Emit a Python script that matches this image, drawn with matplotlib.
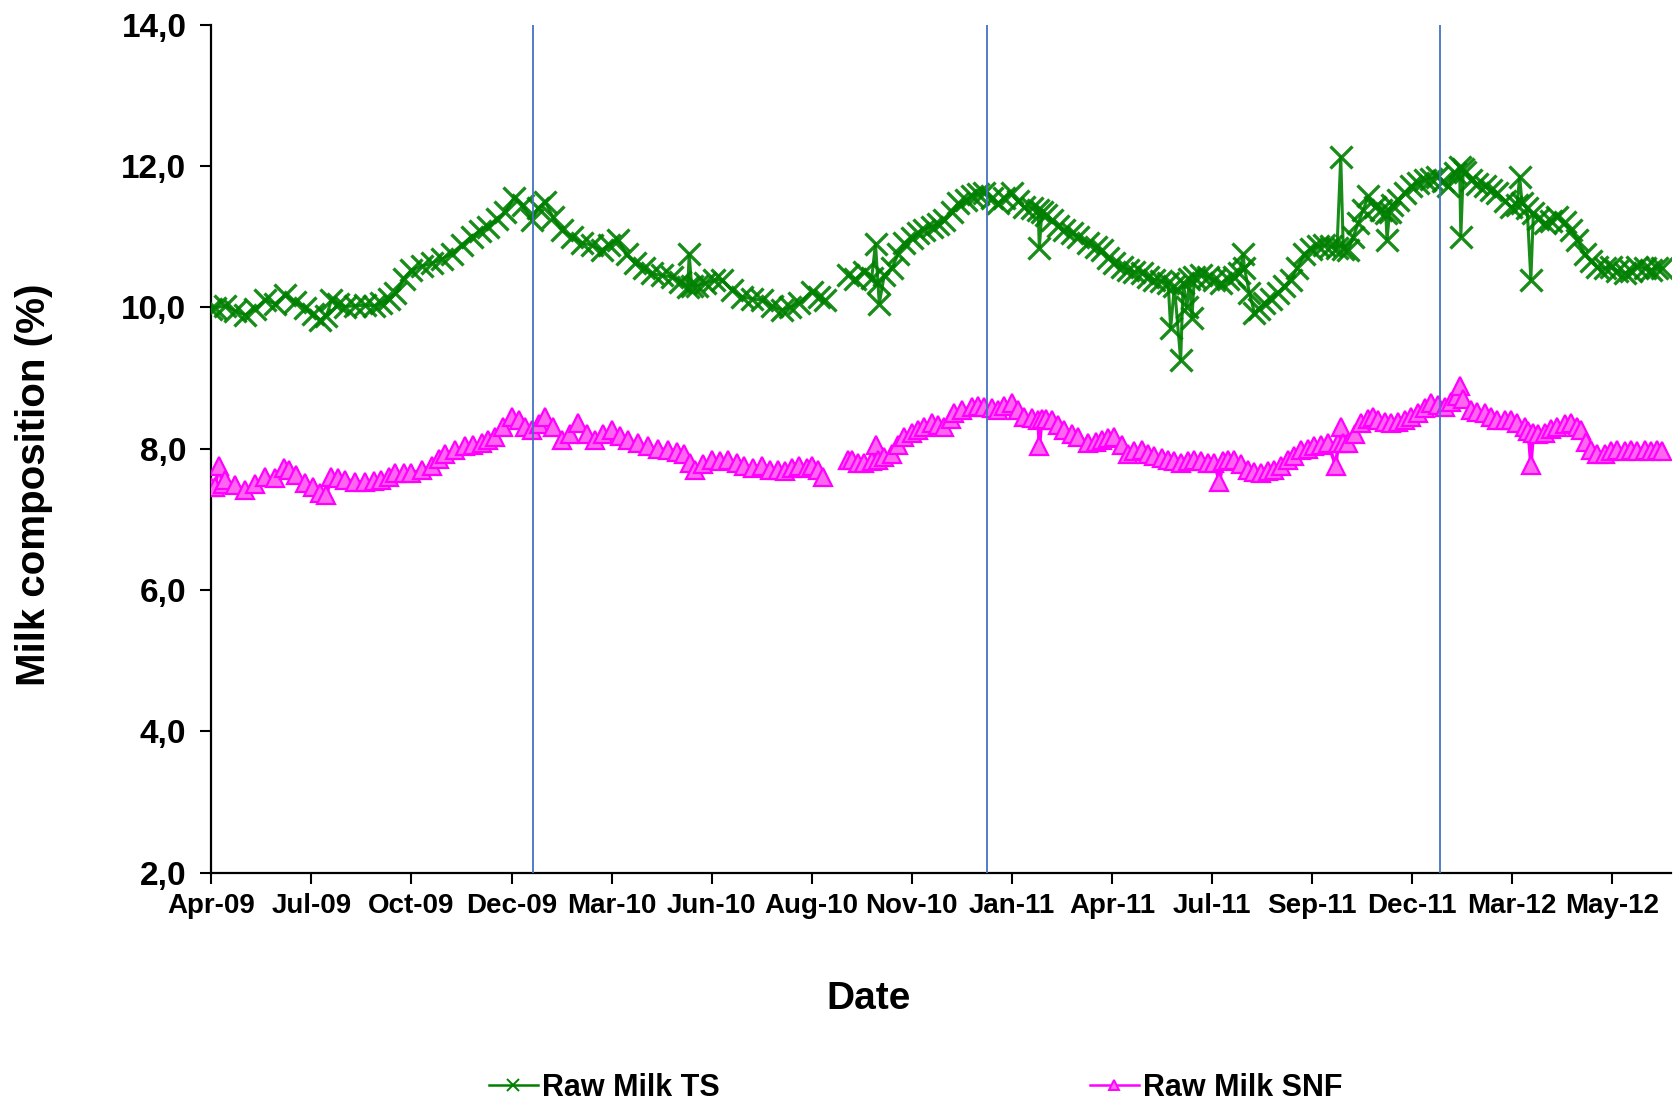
import datetime as dt
import matplotlib
matplotlib.use("Agg")
import matplotlib.pyplot as plt
import matplotlib.dates as mdates
from matplotlib.ticker import FuncFormatter, FixedLocator
from matplotlib.lines import Line2D
import numpy as np

# Sampling dates are stored as day offsets from the first sample
start_date = dt.date(2009, 4, 28)

ts_days = [0, 3, 11, 19, 27, 35, 43, 51, 59, 67, 75, 81, 87, 92, 96, 101, 107, 115, 123, 130,
           136, 142, 147, 154, 160, 168, 176, 184, 192, 200, 208, 215, 221, 228, 235, 242, 249,
           256, 261, 267, 273, 280, 288, 296, 304, 312, 318, 325, 332, 339, 346, 352, 360, 368,
           375, 381, 382, 384, 388, 395, 402, 408, 416, 424, 432, 440, 448, 456, 463, 470, 480,
           486, 491, 500, 509, 515, 522, 528, 531, 533, 534, 538, 544, 549, 554, 560, 565, 570,
           576, 581, 586, 592, 597, 603, 608, 613, 618, 624, 629, 634, 640, 645, 650, 656, 661,
           662, 664, 667, 672, 677, 682, 688, 693, 701, 707, 712, 717, 722, 728, 733, 738, 744,
           749, 754, 759, 765, 767, 770, 775, 777, 780, 782, 784, 786, 791, 797, 802, 807, 813,
           818, 822, 825, 826, 830, 834, 838, 842, 847, 853, 858, 863, 868, 874, 879, 885, 890,
           895, 900, 903, 905, 909, 913, 917, 921, 925, 930, 935, 939, 940, 942, 944, 949, 954,
           959, 965, 970, 975, 980, 985, 989, 994, 998, 999, 1001, 1002, 1007, 1012, 1018, 1023,
           1028, 1034, 1039, 1044, 1046, 1048, 1052, 1055, 1057, 1061, 1066, 1071, 1076, 1082,
           1087, 1092, 1098, 1103, 1108, 1114, 1119, 1124, 1130, 1135, 1140, 1146, 1151, 1156,
           1160]
ts_values = [9.98, 9.99, 10.02, 9.95, 9.89, 9.98, 10.10, 10.05, 10.17, 10.08, 9.99, 9.90, 9.82,
             9.88, 10.10, 10.05, 10.01, 10.02, 10.03, 10.02, 10.06, 10.12, 10.20, 10.40, 10.53,
             10.58, 10.62, 10.68, 10.76, 10.88, 11.00, 11.08, 11.14, 11.25, 11.35, 11.55, 11.45,
             11.24, 11.40, 11.49, 11.28, 11.09, 11.00, 10.91, 10.88, 10.81, 10.88, 10.95, 10.75,
             10.62, 10.55, 10.48, 10.45, 10.43, 10.36, 10.29, 10.76, 10.30, 10.30, 10.34, 10.38,
             10.39, 10.25, 10.15, 10.12, 10.10, 10.02, 9.96, 10.00, 10.06, 10.22, 10.15, 10.10,
             np.nan, 10.45, 10.40, 10.50, 10.42, 10.90, 10.34, 10.05, 10.45, 10.55, 10.75, 10.91,
             10.98, 11.05, 11.10, 11.14, 11.18, 11.24, 11.35, 11.47, 11.52, 11.57, 11.60, 11.61,
             11.55, 11.47, 11.55, 11.61, 11.50, 11.42, 11.40, 11.38, 10.84, 11.35, 11.30, 11.24,
             11.15, 11.09, 11.05, 11.00, 10.91, 10.85, 10.81, 10.70, 10.62, 10.57, 10.53, 10.50,
             10.48, 10.43, 10.39, 10.37, 10.34, 9.70, 10.30, 9.25, 10.35, 10.00, 10.40, 9.85,
             10.43, 10.45, 10.43, 10.38, 10.34, 10.40, 10.43, 10.48, 10.75, 10.55, 10.20, 9.92,
             9.98, 10.06, 10.12, 10.20, 10.30, 10.39, 10.55, 10.76, 10.82, 10.86, 10.88, 10.86,
             10.84, 12.13, 10.82, 10.81, 11.00, 11.19, 11.38, 11.57, 11.42, 11.38, 11.33, 10.95,
             11.35, 11.45, 11.52, 11.62, 11.71, 11.76, 11.80, 11.82, 11.85, 11.78, 11.71, 11.90,
             11.99, 11.00, 11.95, 11.92, 11.80, 11.75, 11.71, 11.66, 11.61, 11.50, 11.42, 11.45,
             11.85, 11.47, 11.40, 10.39, 11.33, 11.25, 11.19, 11.22, 11.28, 11.20, 11.09, 10.95,
             10.76, 10.65, 10.57, 10.55, 10.57, 10.52, 10.48, 10.52, 10.57, 10.55, 10.53, 10.56,
             10.55]

snf_days = [0, 3, 6, 9, 11, 19, 27, 35, 43, 51, 58, 62, 68, 75, 81, 87, 92, 96, 101, 107, 115,
            123, 130, 136, 142, 147, 154, 160, 168, 176, 182, 187, 195, 203, 209, 216, 221, 227,
            233, 240, 246, 251, 256, 262, 267, 273, 280, 287, 293, 300, 307, 313, 320, 327, 333,
            341, 349, 357, 365, 372, 378, 383, 387, 393, 400, 407, 413, 420, 426, 433, 440, 447,
            453, 459, 464, 470, 476, 480, 485, 489, 500, 509, 512, 517, 522, 528, 531, 533, 538,
            544, 549, 554, 560, 565, 570, 576, 581, 586, 591, 594, 600, 608, 613, 618, 624, 629,
            634, 640, 645, 650, 656, 661, 662, 664, 667, 672, 677, 682, 688, 693, 701, 707, 712,
            717, 722, 728, 733, 738, 744, 749, 754, 760, 765, 770, 775, 781, 786, 791, 797, 802,
            806, 809, 813, 818, 823, 829, 834, 839, 845, 850, 855, 861, 866, 871, 877, 882, 887,
            893, 899, 901, 903, 905, 909, 914, 919, 925, 929, 933, 938, 943, 949, 954, 959, 965,
            970, 975, 981, 986, 991, 996, 998, 1001, 1007, 1012, 1018, 1023, 1028, 1034, 1039,
            1044, 1050, 1053, 1055, 1057, 1061, 1066, 1071, 1076, 1082, 1087, 1092, 1095, 1099,
            1103, 1108, 1114, 1119, 1124, 1130, 1135, 1140, 1146, 1151, 1156, 1160]
snf_values = [7.45, 7.46, 7.75, 7.50, 7.56, 7.48, 7.42, 7.50, 7.60, 7.58, 7.72, 7.70, 7.62, 7.51,
              7.45, 7.37, 7.35, 7.60, 7.58, 7.56, 7.53, 7.53, 7.54, 7.56, 7.60, 7.65, 7.66, 7.65,
              7.70, 7.75, 7.85, 7.93, 7.98, 8.03, 8.05, 8.08, 8.12, 8.17, 8.30, 8.45, 8.40, 8.30,
              8.26, 8.35, 8.45, 8.30, 8.12, 8.20, 8.36, 8.20, 8.12, 8.20, 8.26, 8.18, 8.12, 8.08,
              8.03, 8.00, 7.98, 7.95, 7.93, 7.80, 7.70, 7.78, 7.84, 7.82, 7.84, 7.80, 7.75, 7.72,
              7.75, 7.70, 7.70, 7.68, 7.72, 7.75, 7.72, 7.75, 7.70, 7.60, np.nan, 7.84, 7.84, 7.80,
              7.79, 7.82, 8.05, 7.84, 7.88, 7.93, 8.05, 8.17, 8.22, 8.26, 8.30, 8.36, 8.34, 8.31,
              8.42, 8.50, 8.55, 8.59, 8.60, 8.59, 8.57, 8.55, 8.60, 8.64, 8.55, 8.45, 8.43, 8.41,
              8.03, 8.42, 8.42, 8.41, 8.33, 8.26, 8.20, 8.17, 8.08, 8.10, 8.12, 8.15, 8.17, 8.05,
              7.93, 7.96, 7.98, 7.93, 7.89, 7.86, 7.84, 7.82, 7.79, 7.82, 7.84, 7.82, 7.79, 7.80,
              7.53, 7.82, 7.84, 7.84, 7.78, 7.70, 7.67, 7.65, 7.68, 7.70, 7.76, 7.84, 7.90, 7.98,
              8.00, 8.03, 8.05, 8.08, 7.75, 8.08, 8.30, 8.08, 8.08, 8.20, 8.36, 8.42, 8.45, 8.41,
              8.38, 8.36, 8.38, 8.41, 8.45, 8.50, 8.58, 8.64, 8.62, 8.59, 8.66, 8.74, 8.88, 8.70,
              8.55, 8.52, 8.50, 8.45, 8.41, 8.40, 8.41, 8.36, 8.31, 8.25, 7.77, 8.22, 8.20, 8.22,
              8.28, 8.31, 8.35, 8.36, 8.30, 8.26, 8.10, 7.98, 7.93, 7.93, 7.96, 7.98, 7.96, 7.98,
              7.97, 7.98, 7.96, 7.98, 7.97]

# Year-boundary reference lines
marker_dates = [dt.date(2010, 1, 10), dt.date(2011, 1, 8), dt.date(2012, 1, 5)]

tick_step_days = 80
n_ticks = 15
axis_span_days = 1167

y_ticks = [2.0, 4.0, 6.0, 8.0, 10.0, 12.0, 14.0]

ts_label = "Raw Milk TS"
snf_label = "Raw Milk SNF"
x_title = "Date"
y_title = "Milk composition (%)"

ts_color = "#008000"
snf_color = "#FF00FF"
snf_fill = "#ff66f0"
ref_color = "#4472C4"

plt.rcParams["font.family"] = ["Liberation Sans", "DejaVu Sans"]

def to_dates(days):
    return [start_date + dt.timedelta(days=int(d)) for d in days]

fig = plt.figure(figsize=(16.79, 11.01), dpi=100)
ax = fig.add_axes([0.1259, 0.2074, 0.8693, 0.7703])

ax.plot(to_dates(ts_days), ts_values, color=ts_color, lw=2.2, marker="x",
        markersize=16, markeredgewidth=2.4, markeredgecolor=ts_color, alpha=0.9, zorder=3)
ax.plot(to_dates(snf_days), snf_values, color=snf_color, lw=2.6, marker="^",
        markersize=13, markeredgewidth=1.6, markeredgecolor=snf_color,
        markerfacecolor=snf_fill, zorder=3)

for d in marker_dates:
    ax.axvline(d, color=ref_color, lw=1.3, zorder=4)

ax.set_ylim(2.0, 14.0)
ax.set_xlim(start_date, start_date + dt.timedelta(days=axis_span_days))
ax.yaxis.set_major_locator(FixedLocator(y_ticks))
ax.yaxis.set_major_formatter(FuncFormatter(lambda v, p: f"{v:.1f}".replace(".", ",")))

tick_dates = [start_date + dt.timedelta(days=tick_step_days * k) for k in range(n_ticks)]
ax.set_xticks(tick_dates)
ax.xaxis.set_major_formatter(mdates.DateFormatter("%b-%y"))

for side in ("top", "right"):
    ax.spines[side].set_visible(False)
for side in ("left", "bottom"):
    ax.spines[side].set_linewidth(1.6)
    ax.spines[side].set_color("#000000")

ax.tick_params(axis="y", direction="out", length=8, width=1.5, labelsize=24, pad=10)
ax.tick_params(axis="x", direction="out", length=8, width=1.5, labelsize=20, pad=7)
for lbl in ax.get_yticklabels() + ax.get_xticklabels():
    lbl.set_fontweight("bold")

fig.text(0.02, 0.5595, y_title, rotation=90, ha="center", va="center",
         fontsize=29, fontweight="bold")
fig.text(0.5175, 0.0925, x_title, ha="center", va="center", fontsize=28, fontweight="bold")

handles = [
    Line2D([], [], color=ts_color, lw=1.8, marker="x", markersize=8, markeredgewidth=1.4),
    Line2D([], [], color=snf_color, lw=1.8, marker="^", markersize=7, markeredgewidth=1.4,
           markerfacecolor=snf_fill),
]
fig.legend(handles, [ts_label, snf_label], loc="center left", ncol=2, frameon=False,
           bbox_to_anchor=(0.2747, 0.012), handlelength=1.6, handletextpad=0.15,
           columnspacing=12.1, prop={"weight": "bold", "size": 22})

fig.savefig("out.png", dpi=100, facecolor="white")
